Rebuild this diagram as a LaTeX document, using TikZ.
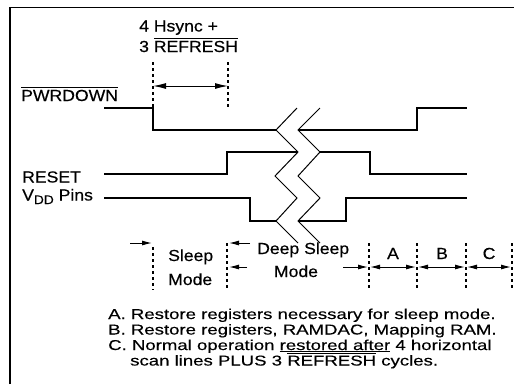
\documentclass[tikz,border=0pt]{standalone}
\usepackage{fontspec}
\newfontfamily\lblfont{Liberation Sans}[FakeStretch=1.1,FakeBold=0.4]
\newfontfamily\notefont{Liberation Sans}[FakeStretch=1.3,FakeBold=0.3]
\usetikzlibrary{arrows.meta}
\newcommand\ovl[1]{\vbox{\hrule height 1.2pt\kern1.8pt\hbox{#1}}}
\newcommand\undl[1]{\vtop{\hbox{#1}\kern1.2pt\hrule height 0.9pt}}
\begin{document}
\begin{tikzpicture}[x=1pt,y=-1pt,
  lbl/.style={anchor=base west, inner sep=0pt, font=\lblfont\fontsize{16}{18}\selectfont},
  note/.style={anchor=base west, inner sep=0pt, font=\notefont\fontsize{14.3}{15.5}\selectfont},
  sig/.style={line width=2.6pt, line join=miter},
  brk/.style={line width=1pt},
  dots/.style={line width=2pt, dash pattern=on 3pt off 3pt},
  dbl/.style={line width=1pt, {Latex[length=13pt,width=6pt]}-{Latex[length=13pt,width=6pt]}},
  arr/.style={line width=1pt, -{Latex[length=10pt,width=5pt]}},
  dbls/.style={line width=1pt, {Latex[length=10pt,width=5pt]}-{Latex[length=10pt,width=5pt]}}]
\useasboundingbox (0,0) rectangle (514,384);
% frame
\draw[line width=1.3pt] (10,384) -- (10,7.5) -- (514,7.5);
% top labels
\node[lbl] (hs) at (139,31.5) {4 Hsync +};
\node[lbl] (rf) at (139,52) {3 \ovl{REFRESH}};
\draw[dots] (153,62) -- (153,110);
\draw[dots] (228,62) -- (228,110);
\draw[dbl] (153,86) -- (228,86);
% signal labels
\node[lbl] (pwr) at (21,101) {\ovl{PWRDOWN}};
\node[lbl] (rst) at (22,182.5) {RESET};
\node[lbl] (vdd) at (22,200.5) {V\raisebox{-3.5pt}{\fontsize{12.5}{12.5}\selectfont DD} Pins};
% signals
\draw[sig] (104,108) -- (153,108) -- (153,130) -- (276,130);
\draw[sig] (298,130) -- (417,130) -- (417,108) -- (467,108);
\draw[sig] (104,174) -- (227,174) -- (227,152) -- (298,152);
\draw[sig] (320,152) -- (370,152) -- (370,174) -- (467,174);
\draw[sig] (104,198) -- (250,198) -- (250,221) -- (276,221);
\draw[sig] (298,221) -- (346,221) -- (346,198) -- (467,198);
% break
\draw[brk] (297,108) -- (276,130) -- (298,152) -- (275,176) -- (297,198) -- (276,221) -- (298,243);
\draw[brk] (320,108) -- (298,130) -- (320,152) -- (298,176) -- (320,198) -- (298,221) -- (320,243);
% bottom phases
\draw[dots] (153,247) -- (153,290);
\draw[dots] (227,243) -- (227,290);
\foreach \x in {369,417,466,512} \draw[dots] (\x,243) -- (\x,288);
\draw[arr] (130,243) -- (152,243);
\draw[arr] (250,243) -- (229,243);
\draw[arr] (247,267) -- (229,267);
\draw[arr] (343,267) -- (368,267);
\draw[dbls] (370,267) -- (416,267);
\draw[dbls] (418,267) -- (465,267);
\draw[dbls] (467,267) -- (511,267);
\node[lbl] (sl) at (168,261) {Sleep};
\node[lbl] (slm) at (168,285) {Mode};
\node[lbl] (dsl) at (257,254) {Deep Sleep};
\node[lbl, anchor=base] (dslm) at (296,277) {Mode};
\node[lbl, anchor=base] (la) at (393,259) {A};
\node[lbl, anchor=base] (lb) at (442,259) {B};
\node[lbl, anchor=base] (lc) at (489,259) {C};
% notes
\node[note] (na) at (108,319) {A. Restore registers necessary for sleep mode.};
\node[note] (nb) at (108,334.5) {B. Restore registers, RAMDAC, Mapping RAM.};
\node[note] (nc) at (108,350) {C. Normal operation \undl{restored after} 4 horizontal};
\node[note] (nd) at (130,365.5) {scan lines PLUS 3 \ovl{REFRESH} cycles.};
\end{tikzpicture}
\end{document}
